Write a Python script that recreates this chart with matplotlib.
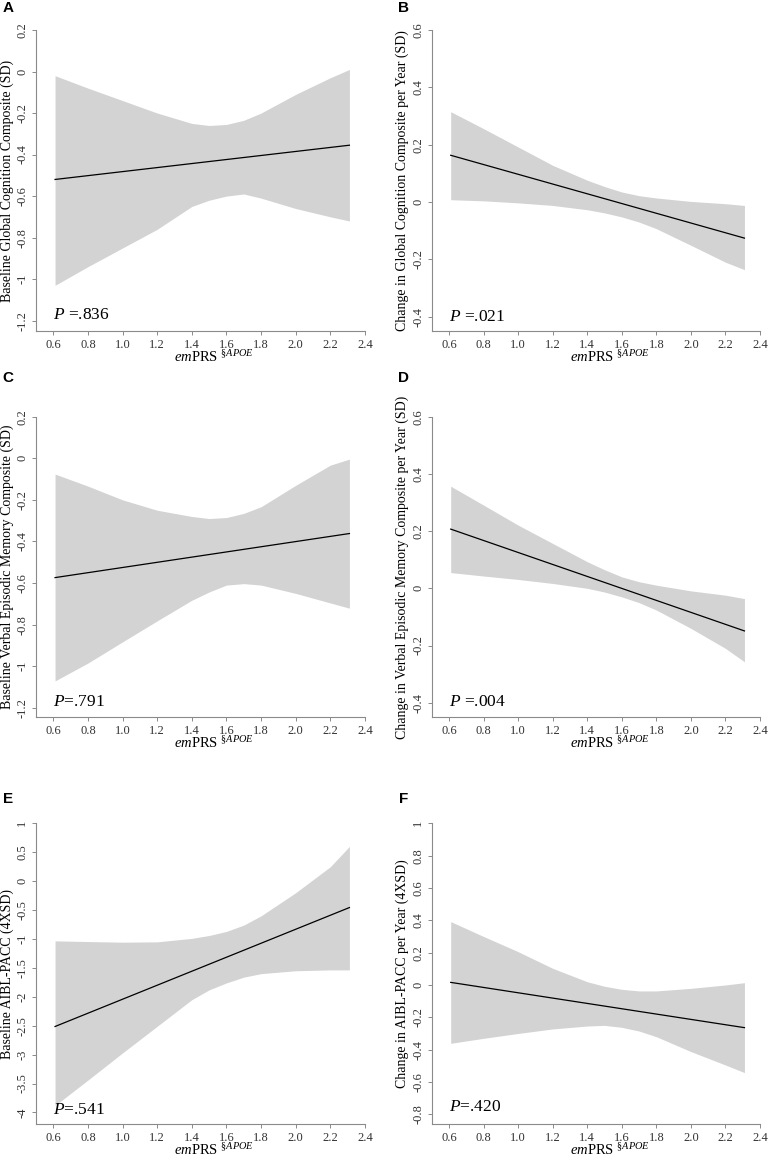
import matplotlib.pyplot as plt
import numpy as np

plt.rcParams['font.family'] = ['Liberation Serif', 'DejaVu Serif']
plt.rcParams['mathtext.fontset'] = 'custom'
plt.rcParams['mathtext.rm'] = 'Liberation Serif'
plt.rcParams['mathtext.it'] = 'Liberation Serif:italic'
plt.rcParams['axes.unicode_minus'] = False

# x positions where the confidence band was read, and ends of the fitted line
x_band = [0.61, 0.8, 1.0, 1.2, 1.4, 1.5, 1.6, 1.7, 1.8, 2.0, 2.2, 2.31]
x_line = [0.61, 2.31]

# A: baseline global cognition
a_fit = [-0.52, -0.355]
a_hi = [-0.02, -0.08, -0.14, -0.20, -0.25, -0.26, -0.255, -0.235, -0.20, -0.11, -0.03, 0.01]
a_lo = [-1.03, -0.94, -0.85, -0.76, -0.65, -0.62, -0.60, -0.59, -0.61, -0.66, -0.70, -0.72]

# B: change in global cognition
b_fit = [0.163, -0.126]
b_hi = [0.315, 0.256, 0.192, 0.128, 0.076, 0.054, 0.035, 0.022, 0.014, 0.002, -0.006, -0.012]
b_lo = [0.008, 0.004, -0.003, -0.012, -0.027, -0.038, -0.052, -0.07, -0.093, -0.151, -0.21, -0.236]

# C: baseline verbal episodic memory
c_fit = [-0.574, -0.362]
c_hi = [-0.076, -0.134, -0.20, -0.25, -0.28, -0.29, -0.285, -0.265, -0.233, -0.13, -0.033, -0.004]
c_lo = [-1.071, -0.985, -0.883, -0.782, -0.683, -0.643, -0.61, -0.603, -0.61, -0.65, -0.696, -0.721]

# D: change in verbal episodic memory
d_fit = [0.207, -0.149]
d_hi = [0.357, 0.291, 0.221, 0.157, 0.093, 0.065, 0.04, 0.023, 0.011, -0.009, -0.024, -0.036]
d_lo = [0.055, 0.043, 0.031, 0.017, 0.0, -0.013, -0.03, -0.05, -0.076, -0.14, -0.21, -0.257]

# E: baseline AIBL-PACC
e_fit = [-2.514, -0.457]
e_hi = [-1.033, -1.045, -1.056, -1.05, -0.99, -0.94, -0.87, -0.76, -0.60, -0.20, 0.25, 0.60]
e_lo = [-3.88, -3.44, -2.97, -2.51, -2.05, -1.88, -1.76, -1.66, -1.60, -1.55, -1.535, -1.535]

# F: change in AIBL-PACC
f_fit = [0.016, -0.264]
f_hi = [0.392, 0.30, 0.206, 0.103, 0.02, -0.008, -0.027, -0.037, -0.037, -0.021, 0.0, 0.014]
f_lo = [-0.361, -0.33, -0.30, -0.272, -0.254, -0.25, -0.262, -0.285, -0.32, -0.412, -0.495, -0.542]

x_ticks = [0.6, 0.8, 1.0, 1.2, 1.4, 1.6, 1.8, 2.0, 2.2, 2.4]

panels = [
    ('A', 'Baseline Global Cognition Composite (SD)', r'$\mathit{P}$ =.836',
     a_fit, a_hi, a_lo, (-1.25, 0.2), np.arange(0.2, -1.3, -0.2)),
    ('B', 'Change in Global Cognition Composite per Year (SD)', r'$\mathit{P}$ =.021',
     b_fit, b_hi, b_lo, (-0.45, 0.6), np.arange(0.6, -0.5, -0.2)),
    ('C', 'Baseline Verbal Episodic Memory Composite (SD)', r'$\mathit{P}$=.791',
     c_fit, c_hi, c_lo, (-1.246, 0.2), np.arange(0.2, -1.3, -0.2)),
    ('D', 'Change in Verbal Episodic Memory Composite per Year (SD)', r'$\mathit{P}$ =.004',
     d_fit, d_hi, d_lo, (-0.451, 0.6), np.arange(0.6, -0.5, -0.2)),
    ('E', 'Baseline AIBL-PACC (4XSD)', r'$\mathit{P}$=.541',
     e_fit, e_hi, e_lo, (-4.2, 1.0), np.arange(1.0, -4.1, -0.5)),
    ('F', 'Change in AIBL-PACC per Year (4XSD)', r'$\mathit{P}$=.420',
     f_fit, f_hi, f_lo, (-0.86, 1.0), np.arange(1.0, -0.9, -0.2)),
]

# pixel boxes: left, right, top, bottom
boxes = [(36, 365, 30, 331), (431.7, 760, 30, 331),
         (36, 365, 416.7, 717.3), (431.7, 760, 416.7, 717.3),
         (36, 365, 823.3, 1124), (431.7, 760, 823.3, 1124)]
letter_y = [8, 8, 378, 378, 799, 799]
p_y = [0.053, 0.048, 0.052, 0.05, 0.047, 0.055]

W, H = 768, 1157
fig = plt.figure(figsize=(W / 100, H / 100), dpi=100)
axis_col = '#8a8a8a'
text_col = '#333333'


def fmt(v):
    v = round(v, 2)
    if abs(v) < 1e-9:
        return '0'
    return ('%g' % v)


for i, (letter, ylab, ptxt, fit, hi, lo, ylim, yt) in enumerate(panels):
    l, r, t, b = boxes[i]
    ax = fig.add_axes([l / W, 1 - b / H, (r - l) / W, (b - t) / H])
    ax.fill_between(x_band, lo, hi, color='#d3d3d3', linewidth=0)
    ax.plot(x_line, fit, color='black', linewidth=0.9)
    ax.set_xlim(0.5, 2.4)
    ax.set_ylim(*ylim)
    ax.set_xticks(x_ticks)
    ax.set_xticklabels(['%.1f' % v for v in x_ticks])
    ax.set_yticks(yt)
    ax.set_yticklabels([fmt(v) for v in yt], rotation=90, va='center')
    for s in ['top', 'right']:
        ax.spines[s].set_visible(False)
    for s in ['left', 'bottom']:
        ax.spines[s].set_color(axis_col)
        ax.spines[s].set_linewidth(0.8)
    ax.tick_params(direction='out', length=3, width=0.7, color=axis_col,
                   labelsize=9, labelcolor=text_col, pad=2.5)
    ax.text(0.6, p_y[i], ptxt, transform=ax.get_xaxis_transform(),
            fontsize=12.5, ha='left', va='center')
    # y label
    fig.text((l - 29) / W, 1 - (t + b) / 2 / H, ylab, rotation=90,
             ha='center', va='center', fontsize=10)
    # x label
    fig.text((l + 178) / W, 1 - (b + 26) / H,
             r'$\mathit{em}$PRS $^{\S\mathit{APOE}}$',
             ha='center', va='center', fontsize=10.5)
    # panel letter
    fig.text((l - 28) / W, 1 - letter_y[i] / H, letter, family='Liberation Sans',
             fontweight='bold', fontsize=11, ha='center', va='center')

plt.savefig('out.png', dpi=100)
